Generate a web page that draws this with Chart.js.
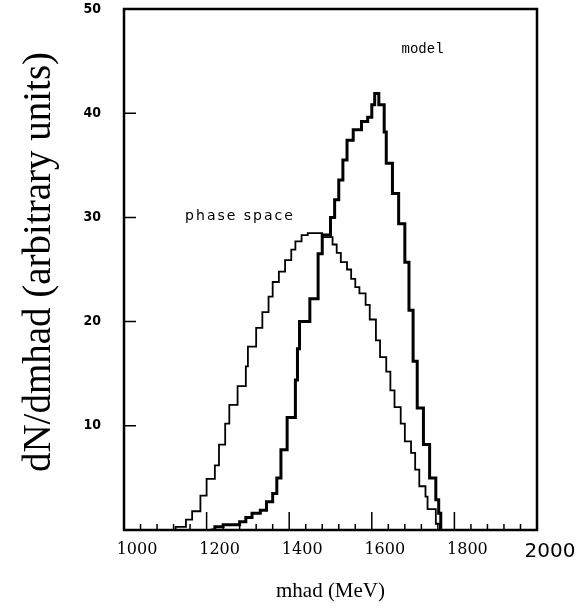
<!DOCTYPE html>
<html>
<head>
<meta charset="utf-8">
<script src="https://cdn.jsdelivr.net/npm/chart.js"></script>
<style>
    html, body { margin: 0; padding: 0; background: #fff; }
    #grafico { display: block; }
</style>
</head>
<body>
<canvas id="grafico" width="585" height="608"></canvas>
<script>
// Histograma "model": borda esquerda de cada degrau (MeV) e altura
const bordasModelo = [1210, 1220, 1240, 1280, 1295, 1310, 1330, 1345, 1360, 1370,
    1380, 1395, 1415, 1420, 1425, 1450, 1470, 1480, 1500, 1510,
    1520, 1530, 1540, 1555, 1575, 1590, 1600, 1607, 1617, 1630,
    1635, 1650, 1665, 1680, 1690, 1700, 1710, 1725, 1740, 1755,
    1762, 1767];
const valoresModelo = [0, 0.3, 0.5, 0.8, 1.2, 1.6, 1.9, 2.7, 3.5, 5.0,
    7.7, 10.8, 14.4, 17.4, 20.0, 22.2, 26.5, 28.3, 30.0, 31.7,
    33.6, 35.5, 37.4, 38.4, 39.2, 39.6, 40.8, 41.9, 40.8, 38.2,
    35.2, 32.3, 29.4, 25.7, 21.1, 16.2, 11.7, 8.2, 5.0, 2.9,
    1.6, 0];

// Histograma "phase space"
const bordasFase = [1110, 1125, 1150, 1165, 1185, 1200, 1220, 1230, 1245, 1255,
    1275, 1295, 1300, 1320, 1335, 1350, 1360, 1375, 1390, 1405,
    1415, 1430, 1445, 1480, 1505, 1515, 1525, 1540, 1550, 1560,
    1570, 1585, 1595, 1610, 1620, 1635, 1645, 1655, 1670, 1680,
    1695, 1705, 1715, 1730, 1735, 1755, 1765];
const valoresFase = [0, 0.3, 1.0, 1.8, 3.3, 4.9, 6.2, 8.2, 10.2, 12.0,
    13.8, 15.7, 17.6, 19.4, 20.9, 22.4, 23.8, 24.8, 25.9, 26.9,
    27.7, 28.3, 28.5, 28.1, 27.4, 26.6, 25.7, 25.0, 24.1, 23.3,
    22.7, 21.6, 20.2, 18.2, 16.6, 15.2, 13.4, 11.8, 10.2, 8.5,
    7.4, 5.8, 4.2, 3.2, 2.0, 0.6, 0];

// eixos
const limitesX = [1000, 2000];
const limitesY = [0, 50];
const passoX = 200;
const passoY = 10;
const tituloY = 'dN/dmhad (arbitrary units)';

function montarPontos(bordas, valores) {
    let pontos = [];
    for (let i = 0; i < bordas.length; i++) {
        pontos.push({ x: bordas[i], y: valores[i] });
    }
    return pontos;
}

// moldura, tracinhos para dentro, titulo do eixo y e rótulos das curvas
const moldura = {
    id: 'moldura',
    afterDatasetsDraw(chart) {
        const ctx = chart.ctx;
        const area = chart.chartArea;
        const escalaX = chart.scales.x;
        const escalaY = chart.scales.y;

        ctx.save();
        ctx.strokeStyle = '#000';
        ctx.lineWidth = 1.5;
        ctx.beginPath();
        for (let v = escalaX.min + 40; v < escalaX.max; v += 40) {
            const px = escalaX.getPixelForValue(v);
            const altura = (v % 200 === 0) ? 18 : 6;
            ctx.moveTo(px, area.bottom);
            ctx.lineTo(px, area.bottom - altura);
        }
        for (let v = escalaY.min + passoY; v < escalaY.max; v += passoY) {
            const py = escalaY.getPixelForValue(v);
            ctx.moveTo(area.left, py);
            ctx.lineTo(area.left + 12, py);
        }
        ctx.stroke();

        ctx.lineWidth = 2.5;
        ctx.strokeRect(area.left, area.top, area.right - area.left, area.bottom - area.top);

        ctx.fillStyle = '#000';
        ctx.textAlign = 'left';
        ctx.textBaseline = 'middle';
        ctx.font = '14px "Liberation Mono"';
        ctx.fillText('model', escalaX.getPixelForValue(1672), escalaY.getPixelForValue(46.1));
        ctx.font = '14px "DejaVu Sans"';
        ctx.letterSpacing = '2px';
        ctx.fillText('phase space', escalaX.getPixelForValue(1148), escalaY.getPixelForValue(30.1));
        ctx.letterSpacing = '0px';

        // titulo vertical
        ctx.translate(40, 262);
        ctx.rotate(-Math.PI / 2);
        ctx.textAlign = 'center';
        ctx.font = '39px "Liberation Serif"';
        ctx.fillText(tituloY, 0, 0);
        ctx.restore();
    }
};

const dados = {
    datasets: [{
        label: 'model',
        data: montarPontos(bordasModelo, valoresModelo),
        borderColor: '#000',
        borderWidth: 3,
        pointRadius: 0,
        stepped: true,
        fill: false
    }, {
        label: 'phase space',
        data: montarPontos(bordasFase, valoresFase),
        borderColor: '#000',
        borderWidth: 1.8,
        pointRadius: 0,
        stepped: true,
        fill: false
    }]
};

const config = {
    type: 'line',
    data: dados,
    options: {
        responsive: false,
        animation: false,
        layout: { padding: { top: 9, right: 48, left: 0, bottom: 0 } },
        plugins: {
            legend: { display: false },
            tooltip: { enabled: false }
        },
        scales: {
            x: {
                type: 'linear',
                min: limitesX[0],
                max: limitesX[1],
                grid: { display: false, drawTicks: false },
                border: { display: false },
                ticks: {
                    stepSize: passoX,
                    padding: 10,
                    labelOffset: 13,
                    maxRotation: 0,
                    autoSkip: false,
                    color: '#000',
                    callback: (v) => String(v),
                    font: (c) => (c.tick && c.tick.value === 2000)
                        ? { family: 'DejaVu Sans', size: 20 }
                        : { family: 'DejaVu Serif', size: 16 }
                },
                title: {
                    display: true,
                    text: 'mhad (MeV)',
                    color: '#000',
                    font: { family: 'Liberation Serif', size: 21 },
                    padding: { top: 0, bottom: 4 }
                },
                afterFit: (s) => { s.height = 78; }
            },
            y: {
                min: limitesY[0],
                max: limitesY[1],
                grid: { display: false, drawTicks: false },
                border: { display: false },
                ticks: {
                    stepSize: passoY,
                    padding: 23,
                    color: '#000',
                    font: { family: 'DejaVu Sans Condensed', size: 14, weight: 'bold' },
                    callback: (v) => v === 0 ? '' : v
                },
                afterFit: (s) => {
                    s.width = 124;
                    s.paddingTop = 0;
                    s.paddingBottom = 0;
                }
            }
        }
    },
    plugins: [moldura]
};

let grafico = new Chart(document.getElementById('grafico'), config);
</script>
</body>
</html>
